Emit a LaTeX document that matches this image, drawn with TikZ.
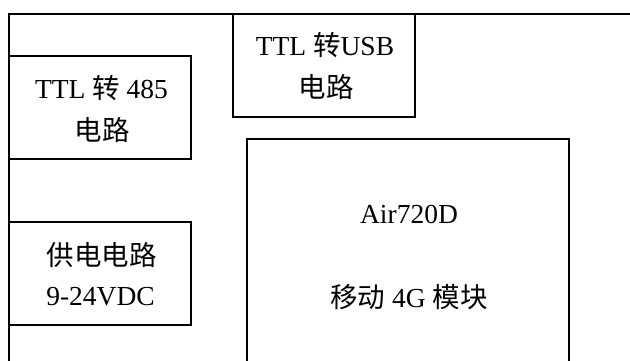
\documentclass[tikz,border=0pt]{standalone}
\usepackage{fontspec}
\setmainfont{Liberation Serif}
\newfontfamily\cjk{Noto Sans CJK SC}
\begin{document}
\begin{tikzpicture}[x=1pt,y=-1pt,
  frame/.style={line width=1.9pt,line cap=rect},
  lbl/.style={anchor=base,inner sep=0pt,font=\fontsize{27.5}{33}\selectfont}]
\useasboundingbox (0,0) rectangle (630,361);
% outer frame (top and left)
\coordinate (tl) at (9,14);
\coordinate (tr) at (630,14);
\coordinate (bl) at (9,361);
\draw[frame] (tr) -- (tl) -- (bl);
% TTL to 485 box
\coordinate (a1) at (9,56);
\coordinate (a2) at (191,159);
\draw[frame] (a1) rectangle (a2);
% TTL to USB box
\coordinate (b1) at (233,14);
\coordinate (b2) at (415,117);
\draw[frame] (b1) rectangle (b2);
% power box
\coordinate (c1) at (9,222);
\coordinate (c2) at (191,325);
\draw[frame] (c1) rectangle (c2);
% module box (open at bottom)
\coordinate (d1) at (247,361);
\coordinate (d2) at (247,139);
\coordinate (d3) at (569,139);
\coordinate (d4) at (569,361);
\draw[frame,line cap=butt] (d1) -- (d2) -- (d3) -- (d4);
% texts
\node[lbl] (t1) at (101.5,99) {TTL {\cjk 转} 485};
\node[lbl] (t2) at (102,140) {\cjk 电路};
\node[lbl] (t3) at (325,56) {TTL {\cjk 转}USB};
\node[lbl] (t4) at (326,98) {\cjk 电路};
\node[lbl] (t5) at (101.5,265) {\cjk 供电电路};
\node[lbl] (t6) at (100.5,305) {9-24VDC};
\node[lbl] (t7) at (409,223) {Air720D};
\node[lbl] (t8) at (409,307) {{\cjk 移动} 4G {\cjk 模块}};
\end{tikzpicture}
\end{document}
